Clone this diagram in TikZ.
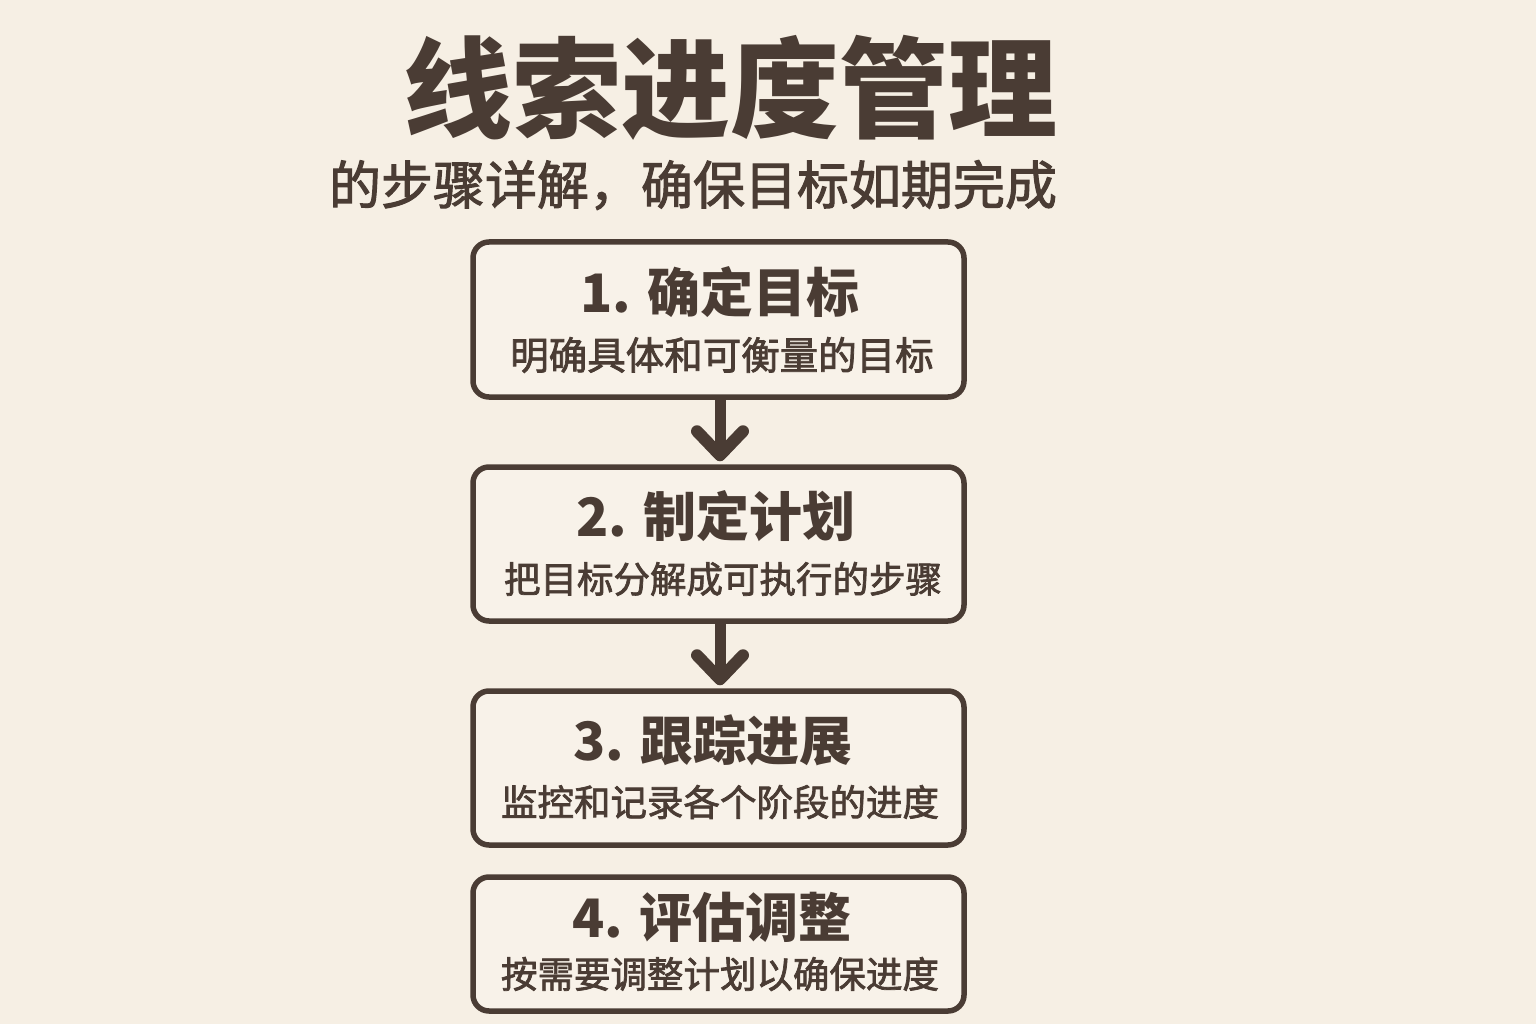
\documentclass[tikz,border=0pt]{standalone}
\usepackage{fontspec}
\newfontfamily\cjk{Noto Sans CJK SC}
\newfontfamily\cjkmed[FakeBold=2]{Noto Sans CJK SC}
\usetikzlibrary{arrows.meta}
\definecolor{bg}{HTML}{F6EFE4}
\definecolor{boxfill}{HTML}{F8F2E9}
\definecolor{ink}{HTML}{4A3C34}
\tikzset{
  stepbox/.style={draw=ink, line width=5.5pt, rounded corners=16pt, fill=boxfill,
    minimum width=491pt, minimum height=153pt, inner sep=0pt},
  steptitle/.style={text=ink, font=\cjk\bfseries\fontsize{53}{60}\selectfont, anchor=center},
  stepdesc/.style={text=ink, font=\cjkmed\fontsize{36.5}{42}\selectfont, anchor=center},
  flow/.style={draw=ink, line width=11pt,
    -{Straight Barb[length=24pt, width=46pt, line width'=12pt 0, line cap=round, line join=round]}}
}
\begin{document}
\begin{tikzpicture}[x=1pt,y=-1pt]
\fill[bg] (0,0) rectangle (1536,1024);
\useasboundingbox (0,0) rectangle (1536,1024);
\node[text=ink, font=\cjk\bfseries\fontsize{109}{120}\selectfont] (title) at (730,88) {线索进度管理};
\node[text=ink, font=\cjkmed\fontsize{52}{58}\selectfont] (sub) at (693,185) {的步骤详解，确保目标如期完成};

\node[stepbox, minimum height=155pt] (b1) at (718.5,319.5) {};
\node[stepbox, minimum height=154pt] (b2) at (718.5,544) {};
\node[stepbox, minimum height=154pt] (b3) at (718.5,768) {};
\node[stepbox, minimum height=134pt] (b4) at (718.5,944) {};

\node[steptitle] (t1) at (720,292) {1. 确定目标};
\node[stepdesc, font=\cjkmed\fontsize{38.5}{44}\selectfont] (d1) at (722,355) {明确具体和可衡量的目标};
\node[steptitle] (t2) at (716,516) {2. 制定计划};
\node[stepdesc] (d2) at (723,579) {把目标分解成可执行的步骤};
\node[steptitle] (t3) at (713,740) {3. 跟踪进展};
\node[stepdesc] (d3) at (720,802) {监控和记录各个阶段的进度};
\node[steptitle] (t4) at (712,917) {4. 评估调整};
\node[stepdesc] (d4) at (720,974) {按需要调整计划以确保进度};

\draw[flow] (b1.south -| 720,0) -- ([yshift=3pt]b2.north -| 720,0);
\draw[flow] (b2.south -| 720,0) -- ([yshift=3pt]b3.north -| 720,0);
\end{tikzpicture}
\end{document}
